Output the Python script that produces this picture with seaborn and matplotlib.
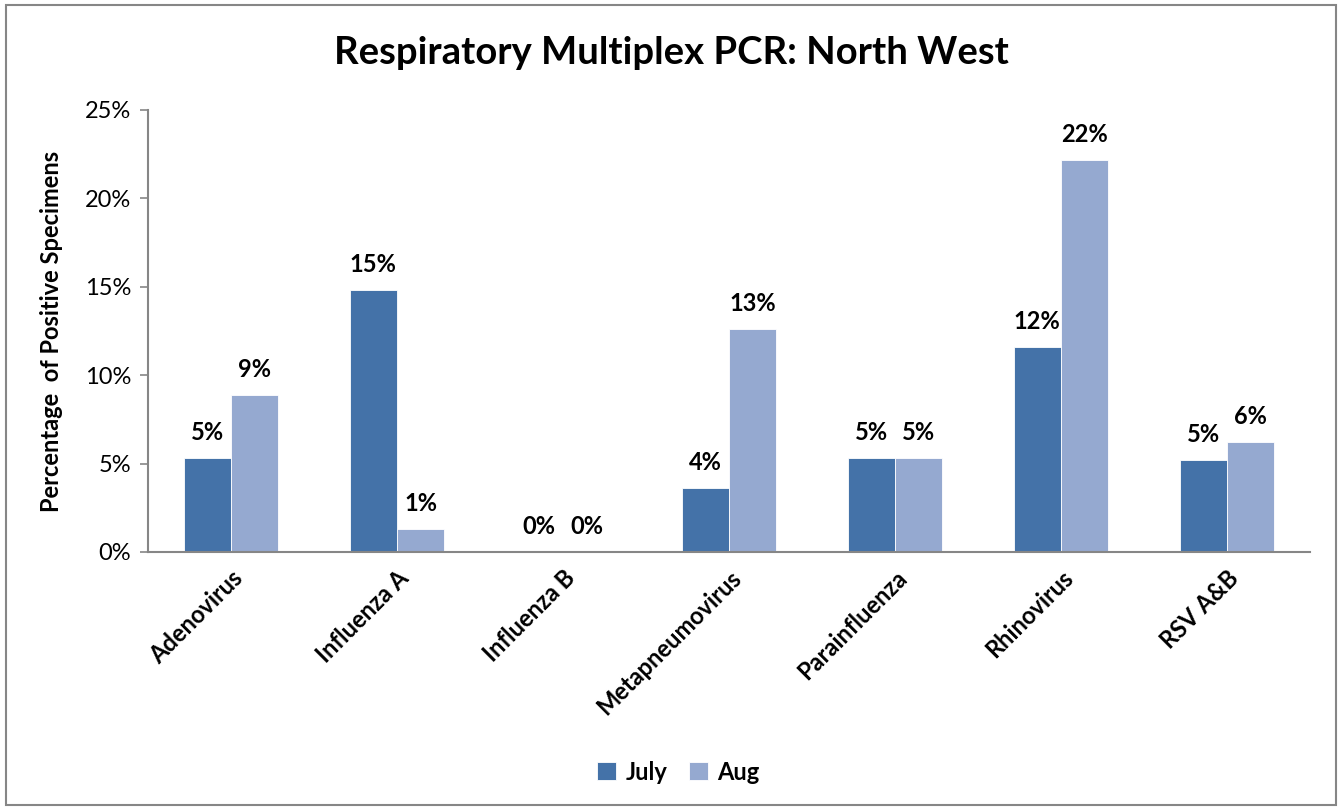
import pandas as pd
import seaborn as sns
import matplotlib.pyplot as plt
from matplotlib.ticker import FuncFormatter, MultipleLocator
from matplotlib.patches import Rectangle

# Values (percent of positive specimens)
viruses = ['Adenovirus', 'Influenza A', 'Influenza B', 'Metapneumovirus',
           'Parainfluenza', 'Rhinovirus', 'RSV A&B']
july = [5.3, 14.8, 0.0, 3.6, 5.3, 11.6, 5.2]
aug = [8.9, 1.3, 0.0, 12.6, 5.3, 22.2, 6.2]
months = ['July', 'Aug']
colors = ['#4472A8', '#95A9D0']

df = pd.DataFrame({
    'Virus': viruses * 2,
    'Month': ['July'] * len(viruses) + ['Aug'] * len(viruses),
    'Pct': july + aug,
})

sns.set_style("white")
plt.rcParams['font.family'] = ['Lato', 'DejaVu Sans']
plt.rcParams['text.color'] = 'black'
plt.rcParams['axes.labelcolor'] = 'black'
plt.rcParams['xtick.color'] = 'black'
plt.rcParams['ytick.color'] = 'black'

fig = plt.figure(figsize=(13.43, 8.09), dpi=100)
ax = fig.add_axes([148 / 1343, 1 - 552 / 809, (1310 - 148) / 1343, (552 - 110) / 809])

sns.barplot(data=df, x='Virus', y='Pct', hue='Month', hue_order=months,
            palette=colors, saturation=1, width=0.57, ax=ax,
            edgecolor='white', linewidth=0.6)

for container in ax.containers:
    labels = ['{:.0f}%'.format(v) for v in container.datavalues]
    ax.bar_label(container, labels=labels, padding=10, fontsize=17, fontweight='bold')

ax.set_ylim(0, 25)
ax.set_xlim(-0.5, len(viruses) - 0.5)
ax.yaxis.set_major_locator(MultipleLocator(5))
ax.yaxis.set_major_formatter(FuncFormatter(lambda v, p: '{:.0f}%'.format(v)))
ax.tick_params(axis='y', which='major', direction='out', length=6, width=1.2,
               color='#868686', labelsize=17, pad=6, left=True)
ax.tick_params(axis='x', length=0, pad=10)
plt.setp(ax.get_xticklabels(), rotation=45, ha='right', rotation_mode='anchor',
         fontsize=17, fontweight='bold')

for side in ['top', 'right']:
    ax.spines[side].set_visible(False)
for side in ['left', 'bottom']:
    ax.spines[side].set_color('#868686')
    ax.spines[side].set_linewidth(1.5)

ax.set_xlabel('')
ax.set_ylabel('Percentage  of Positive Specimens', fontsize=17, fontweight='bold', labelpad=16)

fig.suptitle('Respiratory Multiplex PCR: North West', fontsize=27.5, fontweight='bold', y=0.955)

handles, labels = ax.get_legend_handles_labels()
ax.get_legend().remove()
fig.legend(handles, labels, loc='center', bbox_to_anchor=(0.505, 1 - 772 / 809), ncol=2,
           frameon=False, prop={'size': 17, 'weight': 'bold'}, handlelength=0.8,
           handleheight=0.8, handletextpad=0.4, columnspacing=0.9)

fig.patches.append(Rectangle((6 / 1343, 4 / 809), 1330 / 1343, 800 / 809,
                             transform=fig.transFigure, fill=False,
                             edgecolor='#868686', linewidth=1.5))

fig.savefig('out.png', dpi=100)
